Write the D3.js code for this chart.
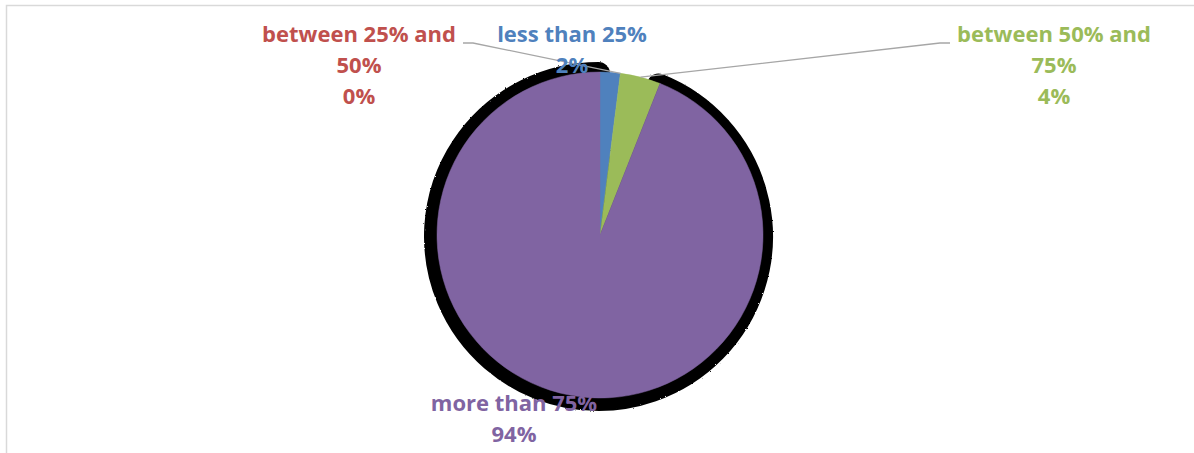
<!DOCTYPE html>
<html>
<head>
<meta charset="utf-8">
<script src="https://cdn.jsdelivr.net/npm/d3@7"></script>
<style>
  html, body { margin: 0; padding: 0; background: #fff; }
  svg { display: block; }
  text { font-family: "Open Sans", "Noto Sans", sans-serif; font-weight: bold; }
</style>
</head>
<body>
<svg id="chart" width="1194" height="453"></svg>
<script>
const categories = ["less than 25%", "between 25% and 50%", "between 50% and 75%", "more than 75%"];
const values = [2, 0, 4, 94];
const percentLabels = ["2%", "0%", "4%", "94%"];
const colors = ["#4f81bd", "#c0504d", "#9bbb59", "#8064a2"];

const W = 1194, H = 453;
const cx = 600, cy = 235, R = 163;
const svg = d3.select("#chart");

// chart-area border (cropped box)
svg.append("path")
  .attr("d", `M6.5,${H} L6.5,5.5 L${W},5.5`)
  .attr("fill", "none").attr("stroke", "#d9d9d9").attr("stroke-width", 1.5);

const data = categories.map((c, i) => ({ cat: c, value: values[i], pct: percentLabels[i], color: colors[i] }));
const pie = d3.pie().sort(null).value(d => d.value);
const arcs = pie(data);
const arc = d3.arc().innerRadius(0).outerRadius(R);

const g = svg.append("g").attr("transform", `translate(${cx},${cy})`);

// rough edge filter for the shadow
const defs = svg.append("defs");
const f = defs.append("filter").attr("id", "rough").attr("x", "-20%").attr("y", "-20%").attr("width", "140%").attr("height", "140%");
f.append("feTurbulence").attr("type", "fractalNoise").attr("baseFrequency", 0.6).attr("numOctaves", 1).attr("result", "noise");
f.append("feDisplacementMap").attr("in", "SourceGraphic").attr("in2", "noise").attr("scale", 2.5);

// black shadow behind the largest slice
const big = arcs[3];
g.append("path")
  .attr("d", arc(big))
  .attr("transform", "translate(-1.5,1.5)")
  .attr("fill", "#000").attr("stroke", "#000")
  .attr("stroke-width", 23).attr("stroke-linejoin", "round")
  .attr("filter", "url(#rough)");

// slices
g.selectAll("path.slice")
  .data(arcs.filter(a => a.value > 0))
  .join("path")
  .attr("class", "slice")
  .attr("d", arc)
  .attr("fill", d => d.data.color)
  .attr("stroke", d => d.data.color)
  .attr("stroke-width", 0.5);

// leader lines
const edgePt = (angle) => [cx + R * Math.sin(angle), cy - R * Math.cos(angle)];
const leaders = [
  { idx: 1, ax: 463, ay: 43, kx: 473 },
  { idx: 2, ax: 950, ay: 43, kx: 940 }
];
leaders.forEach(l => {
  const a = arcs[l.idx];
  const p = edgePt((a.startAngle + a.endAngle) / 2);
  svg.append("polyline")
    .attr("points", [[l.ax, l.ay], [l.kx, l.ay], p].map(q => q.join(",")).join(" "))
    .attr("fill", "none").attr("stroke", "#a6a6a6").attr("stroke-width", 1.3);
});

// labels
const labelLayout = [
  { idx: 0, x: 572, y: 36, lines: ["less than 25%"] },
  { idx: 1, x: 359, y: 36, lines: ["between 25% and", "50%"] },
  { idx: 2, x: 1054, y: 36, lines: ["between 50% and", "75%"] },
  { idx: 3, x: 514, y: 405, lines: ["more than 75%"] }
];
const lineH = 31;
labelLayout.forEach(L => {
  const d = data[L.idx];
  const t = svg.append("text")
    .attr("text-anchor", "middle")
    .attr("fill", d.color)
    .attr("font-size", 22);
  const all = L.lines.concat([d.pct]);
  all.forEach((s, i) => {
    t.append("tspan").attr("x", L.x).attr("y", L.y + i * lineH).attr("dominant-baseline", "middle").text(s);
  });
});
</script>
</body>
</html>
